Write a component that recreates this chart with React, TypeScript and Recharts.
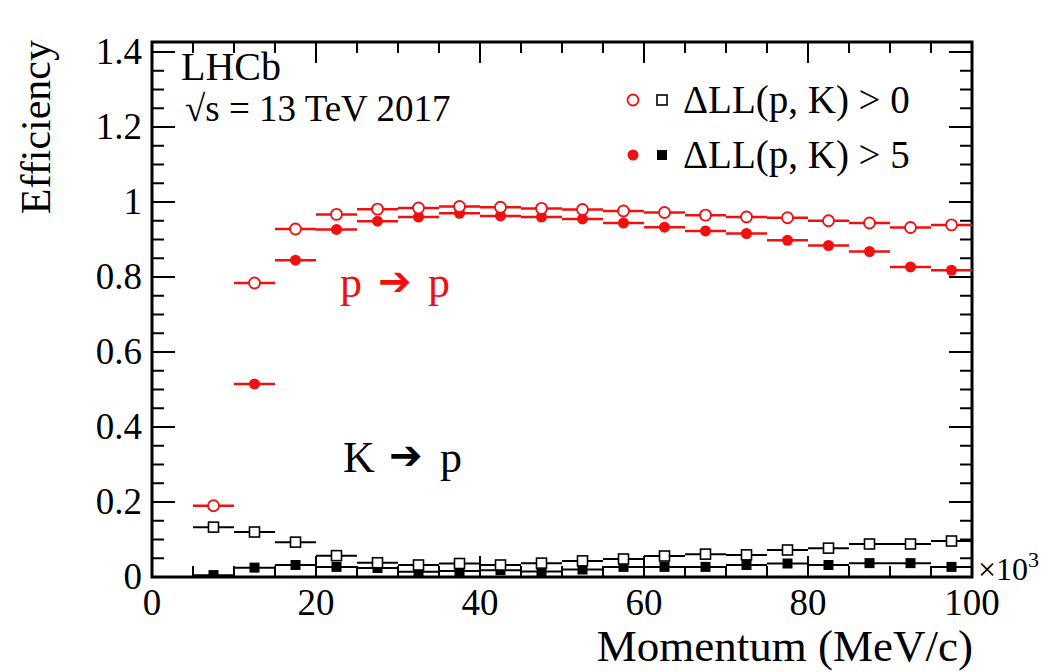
import { ComposedChart, Scatter, ErrorBar, XAxis, YAxis, ReferenceArea } from 'recharts';

// momentum bin centres (x10^3 MeV/c), 5 GeV wide bins
const momentum = [7.5, 12.5, 17.5, 22.5, 27.5, 32.5, 37.5, 42.5, 47.5, 52.5, 57.5, 62.5, 67.5, 72.5, 77.5, 82.5, 87.5, 92.5, 97.5];
const binHalfWidth = 2.5;

// p -> p efficiency
const protonDll0 = [0.19, 0.784, 0.928, 0.967, 0.981, 0.984, 0.988, 0.986, 0.983, 0.98, 0.976, 0.972, 0.965, 0.96, 0.958, 0.95, 0.944, 0.932, 0.939];
const protonDll5 = [null, 0.515, 0.845, 0.927, 0.949, 0.96, 0.97, 0.963, 0.96, 0.955, 0.944, 0.933, 0.923, 0.916, 0.898, 0.884, 0.868, 0.827, 0.818];

// K -> p misidentification
const kaonDll0 = [0.133, 0.12, 0.093, 0.057, 0.038, 0.032, 0.036, 0.032, 0.037, 0.043, 0.048, 0.056, 0.061, 0.059, 0.072, 0.077, 0.088, 0.088, 0.096];
const kaonDll5 = [0.005, 0.025, 0.032, 0.027, 0.024, 0.014, 0.016, 0.018, 0.015, 0.02, 0.027, 0.027, 0.027, 0.032, 0.036, 0.032, 0.037, 0.037, 0.027];

const xTicks = [0, 5, 10, 15, 20, 25, 30, 35, 40, 45, 50, 55, 60, 65, 70, 75, 80, 85, 90, 95, 100];
const yTicks = [0, 0.05, 0.1, 0.15, 0.2, 0.25, 0.3, 0.35, 0.4, 0.45, 0.5, 0.55, 0.6, 0.65, 0.7, 0.75, 0.8, 0.85, 0.9, 0.95, 1, 1.05, 1.1, 1.15, 1.2, 1.25, 1.3, 1.35, 1.4];

const W = 1052;
const H = 672;
const LEFT = 152;
const RIGHT = 972;
const TOP = 42;
const BOTTOM = 577;
const Y_MAX = 1.4267;
const RED = '#f01010';
const FONT = "'Liberation Serif', 'Times New Roman', Times, 'DejaVu Serif', serif";
const serif = { fontFamily: FONT };
const arrowFont = { fontFamily: "'DejaVu Sans', sans-serif" };

const toPoints = (vals: (number | null)[]) =>
  momentum
    .map((x, i) => ({ x, y: vals[i], ex: binHalfWidth }))
    .filter((p) => p.y !== null);

const XTick = (props: any) => {
  const { x, payload } = props;
  const v = payload.value;
  const major = v % 20 === 0;
  const len = major ? 21 : 11;
  return (
    <g>
      <line x1={x} x2={x} y1={BOTTOM} y2={BOTTOM - len} stroke="#000" strokeWidth={2} />
      <line x1={x} x2={x} y1={TOP} y2={TOP + len} stroke="#000" strokeWidth={2} />
      {major && (
        <text x={x} y={615} textAnchor="middle" style={serif} fontSize={37} fill="#000">
          {v}
        </text>
      )}
    </g>
  );
};

const YTick = (props: any) => {
  const { y, payload } = props;
  const v = payload.value;
  const major = Math.round(v * 100) % 20 === 0;
  const len = major ? 23 : 12;
  return (
    <g>
      <line x1={LEFT} x2={LEFT + len} y1={y} y2={y} stroke="#000" strokeWidth={2} />
      <line x1={RIGHT} x2={RIGHT - len} y1={y} y2={y} stroke="#000" strokeWidth={2} />
      {major && (
        <text x={142} y={y} dy={12} textAnchor="end" style={serif} fontSize={37} fill="#000">
          {String(v)}
        </text>
      )}
    </g>
  );
};

const OpenCircle = (p: any) => <circle cx={p.cx} cy={p.cy} r={5.5} fill="#fff" stroke={RED} strokeWidth={1.8} />;
const FullCircle = (p: any) => <circle cx={p.cx} cy={p.cy} r={5.5} fill={RED} />;
const OpenSquare = (p: any) => <rect x={p.cx - 5} y={p.cy - 5} width={10} height={10} fill="#fff" stroke="#000" strokeWidth={1.6} />;
const FullSquare = (p: any) => <rect x={p.cx - 5} y={p.cy - 5} width={10} height={10} fill="#000" />;

export default function App() {
  return (
    <div style={{ position: 'absolute', left: 0, top: 0, width: W, height: H, background: '#fff', ...serif }}>
      <ComposedChart width={W} height={H} margin={{ top: TOP, right: W - RIGHT, bottom: 0, left: 0 }}>
        <XAxis
          type="number"
          dataKey="x"
          domain={[0, 100]}
          ticks={xTicks}
          interval={0}
          tick={XTick}
          tickLine={false}
          axisLine={false}
          height={H - BOTTOM}
          allowDataOverflow
        />
        <YAxis
          type="number"
          dataKey="y"
          domain={[0, Y_MAX]}
          ticks={yTicks}
          interval={0}
          tick={YTick}
          tickLine={false}
          axisLine={false}
          width={LEFT}
          allowDataOverflow
        />
        <ReferenceArea x1={0} x2={100} y1={0} y2={Y_MAX} fill="none" fillOpacity={0} stroke="#000" strokeWidth={3} />
        <Scatter data={toPoints(kaonDll5)} shape={FullSquare} isAnimationActive={false}>
          <ErrorBar dataKey="ex" direction="x" width={0} stroke="#000" strokeWidth={2} />
        </Scatter>
        <Scatter data={toPoints(kaonDll0)} shape={OpenSquare} isAnimationActive={false}>
          <ErrorBar dataKey="ex" direction="x" width={0} stroke="#000" strokeWidth={2} />
        </Scatter>
        <Scatter data={toPoints(protonDll5)} shape={FullCircle} isAnimationActive={false}>
          <ErrorBar dataKey="ex" direction="x" width={0} stroke={RED} strokeWidth={2.5} />
        </Scatter>
        <Scatter data={toPoints(protonDll0)} shape={OpenCircle} isAnimationActive={false}>
          <ErrorBar dataKey="ex" direction="x" width={0} stroke={RED} strokeWidth={2.5} />
        </Scatter>
      </ComposedChart>
      <svg width={W} height={H} style={{ position: 'absolute', left: 0, top: 0, pointerEvents: 'none', ...serif }}>
        <text x={0} y={0} transform="translate(50,40) rotate(-90)" textAnchor="end" fontSize={42}>
          Efficiency
        </text>
        <text x={973} y={661} textAnchor="end" fontSize={45}>
          Momentum (MeV/c)
        </text>
        <text x={978} y={580} fontSize={32}>
          ×10<tspan dy={-13} fontSize={22}>3</tspan>
        </text>
        <text x={181} y={80} fontSize={40}>LHCb</text>
        <text x={185} y={121} fontSize={37}>√s = 13 TeV 2017</text>

        <circle cx={633} cy={100} r={5.5} fill="#fff" stroke={RED} strokeWidth={1.8} />
        <rect x={657} y={95} width={10} height={10} fill="#fff" stroke="#000" strokeWidth={1.6} />
        <text x={683} y={113} fontSize={39}>ΔLL(p, K) &gt; 0</text>
        <circle cx={633} cy={155} r={5.5} fill={RED} />
        <rect x={657} y={150} width={10} height={10} fill="#000" />
        <text x={683} y={168} fontSize={39}>ΔLL(p, K) &gt; 5</text>

        <g fill={RED} fontSize={44}>
          <text x={340} y={297}>p</text>
          <text x={378} y={295} fontSize={40} style={arrowFont}>➔</text>
          <text x={428} y={297}>p</text>
        </g>
        <g fill="#000" fontSize={44}>
          <text x={343} y={472}>K</text>
          <text x={389} y={469} fontSize={40} style={arrowFont}>➔</text>
          <text x={440} y={472}>p</text>
        </g>
      </svg>
    </div>
  );
}
